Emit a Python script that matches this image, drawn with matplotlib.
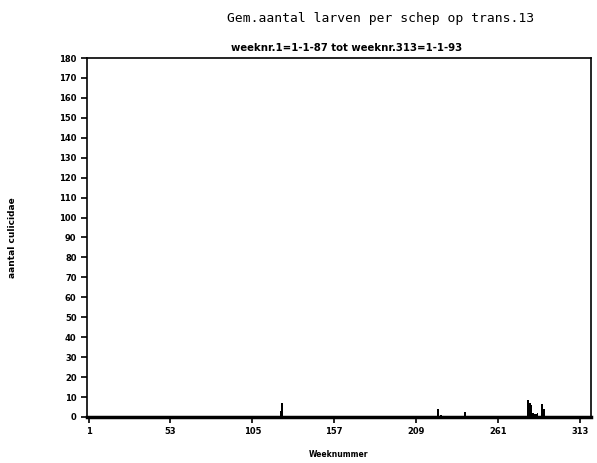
import matplotlib
matplotlib.use("Agg")
import matplotlib.pyplot as plt

# weeks with a non-zero count (all other weeks are zero)
weeks = [22, 28, 33, 38, 44, 49, 123, 124, 223, 225, 240,
         280, 281, 282, 283, 284, 285, 286, 289, 290]
counts = [0.5, 0.5, 0.5, 0.5, 0.5, 0.5, 3, 7, 4, 1, 2.5,
          8.5, 7, 6, 2, 1.5, 1.5, 2, 6.5, 4]

xticks = [1, 53, 105, 157, 209, 261, 313]
yticks = list(range(0, 181, 10))

fig = plt.figure(figsize=(5.97, 4.63), dpi=100)
ax = fig.add_axes([0.1457, 0.0994, 0.8443, 0.7753])

ax.bar(weeks, counts, width=1.2, color="black", align="center")

ax.set_xlim(0, 320)
ax.set_ylim(0, 180)
ax.set_xticks(xticks)
ax.set_yticks(yticks)
ax.tick_params(direction="out", length=4, width=1.2, labelsize=6)
for lab in ax.get_xticklabels() + ax.get_yticklabels():
    lab.set_fontweight("bold")

for side in ["left", "top", "right"]:
    ax.spines[side].set_linewidth(1.2)
ax.spines["bottom"].set_linewidth(2.5)

fig.text(0.637, 0.96, "Gem.aantal larven per schep op trans.13",
         ha="center", va="center", fontsize=9.4, family="DejaVu Sans Mono")
fig.text(0.58, 0.896, "weeknr.1=1-1-87 tot weeknr.313=1-1-93",
         ha="center", va="center", fontsize=7.3, fontweight="bold")
ax.set_xlabel("Weeknummer", fontsize=5.5, fontweight="bold", labelpad=10)
ax.set_ylabel("aantal culicidae", fontsize=6.5, fontweight="bold", labelpad=30)

fig.savefig("out.png", dpi=100)
